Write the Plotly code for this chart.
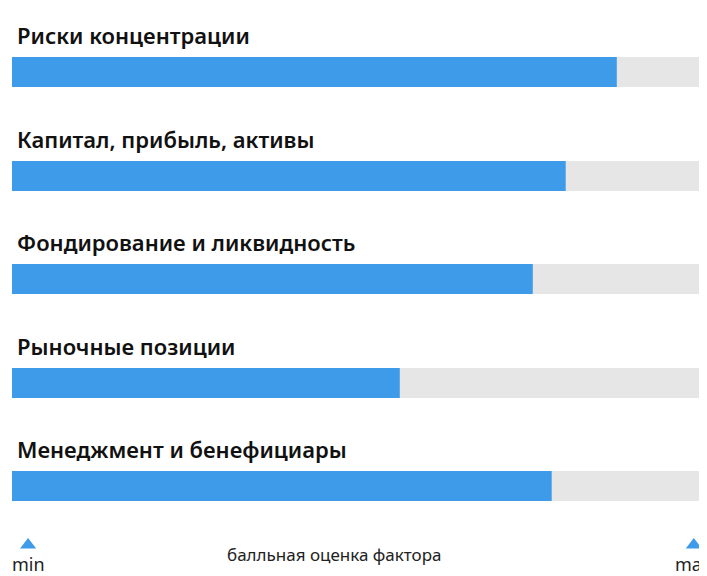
import plotly.graph_objects as go

categories = ["Риски концентрации", "Капитал, прибыль, активы", "Фондирование и ликвидность",
              "Рыночные позиции", "Менеджмент и бенефициары"]
values = [0.864, 0.791, 0.744, 0.554, 0.771]
axis_title = "балльная оценка фактора"
min_label, max_label = "min", "max"

centers = [64, 168, 271, 375, 478]
BLUE = "#3d9be9"
GRAY = "#e6e6e6"

fig = go.Figure()
fig.add_trace(go.Bar(x=[1]*len(values), y=centers, orientation="h", width=30,
                     marker=dict(color=GRAY, line_width=0), hoverinfo="skip"))
fig.add_trace(go.Bar(x=values, y=centers, orientation="h", width=30,
                     marker=dict(color=BLUE, line_width=0)))
fig.add_trace(go.Scatter(x=[0.023, 0.974], y=[537, 537], mode="markers", cliponaxis=False,
                         marker=dict(symbol="triangle-up", size=14, color=BLUE)))
for c, cy in zip(categories, centers):
    fig.add_annotation(x=0.004, y=cy-37, text=c, showarrow=False, xanchor="left", yanchor="middle",
                       font=dict(family="Noto Sans", size=22, color="#111", weight=600))
fig.add_annotation(x=0.023, y=556, text=min_label, showarrow=False, font=dict(family="Noto Sans", size=18, color="#222"))
fig.add_annotation(x=0.974, y=556, text=max_label, showarrow=False, font=dict(family="Noto Sans", size=18, color="#222"))
fig.add_annotation(x=0.46, y=546, text=axis_title, showarrow=False, font=dict(family="Noto Sans", size=17, color="#222"))

fig.update_layout(width=707, height=576, margin=dict(l=4, r=3, t=0, b=0, autoexpand=False),
                  barmode="overlay", showlegend=False, plot_bgcolor="white", paper_bgcolor="white",
                  xaxis=dict(range=[0, 1], visible=False, fixedrange=True),
                  yaxis=dict(range=[576, 0], visible=False, fixedrange=True))
fig.write_html("out.html")
